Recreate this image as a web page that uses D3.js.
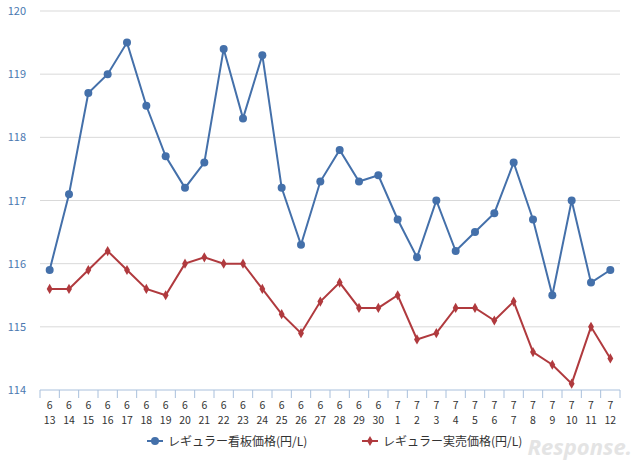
<!DOCTYPE html><html><head><meta charset="utf-8"><script src="https://cdn.jsdelivr.net/npm/d3@7"></script>
<style>body{margin:0;background:#fff}</style></head><body><svg id="c" width="640" height="467"></svg><script>
const months=["6","6","6","6","6","6","6","6","6","6","6","6","6","6","6","6","6","6","7","7","7","7","7","7","7","7","7","7","7","7"];
const days=["13","14","15","16","17","18","19","20","21","22","23","24","25","26","27","28","29","30","1","2","3","4","5","6","7","8","9","10","11","12"];
const signPrice=[115.9,117.1,118.7,119.0,119.5,118.5,117.7,117.2,117.6,119.4,118.3,119.3,117.2,116.3,117.3,117.8,117.3,117.4,116.7,116.1,117.0,116.2,116.5,116.8,117.6,116.7,115.5,117.0,115.7,115.9];
const actualPrice=[115.6,115.6,115.9,116.2,115.9,115.6,115.5,116.0,116.1,116.0,116.0,115.6,115.2,114.9,115.4,115.7,115.3,115.3,115.5,114.8,114.9,115.3,115.3,115.1,115.4,114.6,114.4,114.1,115.0,114.5];
const yTicks=[114,115,116,117,118,119,120];
const seriesNames=["レギュラー看板価格(円/L)","レギュラー実売価格(円/L)"];
const colors=["#4470aa","#b03a3e"];
const svg=d3.select("#c");
const idx=d3.range(days.length);
const x=d3.scaleBand().domain(idx).range([40,620]);
const y=d3.scaleLinear().domain([114,120]).range([390,11]);
const font="'Noto Sans CJK JP','Noto Sans',sans-serif";
svg.selectAll("line.g").data(yTicks.slice(1)).join("line").attr("x1",40).attr("x2",620).attr("y1",d=>y(d)).attr("y2",d=>y(d)).attr("stroke","#d9d9d9");
svg.selectAll("text.y").data(yTicks).join("text").attr("x",26).attr("y",d=>y(d)+4).attr("text-anchor","end").attr("font-size",11).attr("font-family",font).attr("fill","#4a78b0").text(d=>d);
svg.append("line").attr("x1",40).attr("x2",620).attr("y1",390).attr("y2",390).attr("stroke","#a9c0dc");
svg.selectAll("line.t").data(d3.range(days.length+1)).join("line").attr("x1",d=>40+d*x.step()).attr("x2",d=>40+d*x.step()).attr("y1",390).attr("y2",398).attr("stroke","#a9c0dc");
const lab=svg.selectAll("g.l").data(idx).join("g").attr("transform",d=>`translate(${x(d)+x.bandwidth()/2},0)`);
lab.append("text").attr("y",409).attr("text-anchor","middle").attr("font-size",10.5).attr("font-family",font).attr("fill","#333").text(d=>months[d]);
lab.append("text").attr("y",424).attr("text-anchor","middle").attr("font-size",10.5).attr("font-family",font).attr("fill","#333").text(d=>days[d]);
const cx=i=>x(i)+x.bandwidth()/2;
[signPrice,actualPrice].forEach((s,k)=>{
 svg.append("path").datum(s).attr("fill","none").attr("stroke",colors[k]).attr("stroke-width",2).attr("d",d3.line().x((d,i)=>cx(i)).y(d=>y(d)));
 if(k===0) svg.selectAll("circle.m").data(s).join("circle").attr("cx",(d,i)=>cx(i)).attr("cy",d=>y(d)).attr("r",4).attr("fill",colors[0]);
 else svg.selectAll("path.m").data(s).join("path").attr("transform",(d,i)=>`translate(${cx(i)},${y(d)})`).attr("d",d3.symbol(d3.symbolDiamond,30)).attr("fill",colors[1]);
});
[[147,0],[362,1]].forEach(([lx,k])=>{
 svg.append("line").attr("x1",lx).attr("x2",lx+16).attr("y1",441).attr("y2",441).attr("stroke",colors[k]).attr("stroke-width",2);
 if(k===0) svg.append("circle").attr("cx",lx+8).attr("cy",441).attr("r",4).attr("fill",colors[0]);
 else svg.append("path").attr("transform",`translate(${lx+8},441)`).attr("d",d3.symbol(d3.symbolDiamond,30)).attr("fill",colors[1]);
 svg.append("text").attr("x",lx+21).attr("y",446).attr("font-size",12).attr("font-family",font).attr("fill","#333").text(seriesNames[k]);
});
svg.append("text").attr("x",632).attr("y",455).attr("text-anchor","end").attr("font-size",22).attr("font-style","italic").attr("font-weight","bold").attr("font-family","'Noto Sans',sans-serif").attr("fill","#e4e4e4").text("Response.");
</script></body></html>
